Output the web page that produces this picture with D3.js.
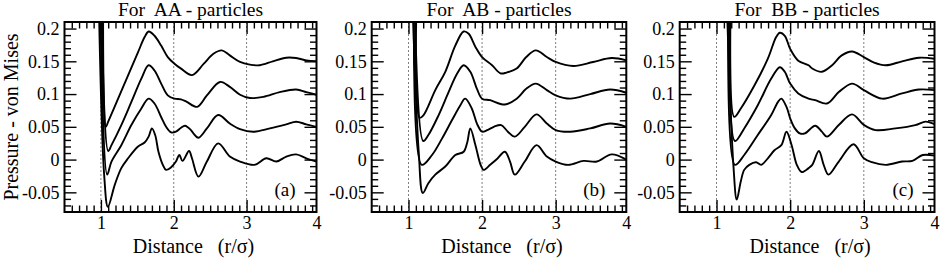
<!DOCTYPE html>
<html>
<head>
<meta charset="utf-8">
<script src="https://cdn.jsdelivr.net/npm/d3@7"></script>
<style>
  body { margin: 0; background: #fff; }
  svg { display: block; }
  text { font-family: "Liberation Serif", "Times New Roman", serif; fill: #000; }
</style>
</head>
<body>
<svg width="941" height="258"></svg>
<script>
// titels en labels
var titles = ["For  AA - particles", "For  AB - particles", "For  BB - particles"];
var tags = ["(a)", "(b)", "(c)"];
var xLabel = "Distance   (r/\u03c3)";
var yLabel = "Pressure - von Mises";
var xTicks = [1, 2, 3, 4];
var yTicks = [-0.05, 0, 0.05, 0.1, 0.15, 0.2];
var yTickLabels = ["-0.05", "0", "0.05", "0.1", "0.15", "0.2"];

// AA curves (onderste = aa0, bovenste = aa3)
var aa0 = [[0.975,0.22],[1.045,-0.024],[1.096,-0.072],[1.19,-0.0385],[1.28,-0.013],[1.373,0.002],[1.51,0.02],[1.6,0.026],[1.655,0.035],[1.70,0.0476],[1.745,0.0375],[1.79,0.012],[1.85,-0.008],[1.895,-0.0157],[1.964,-0.0117],[2.03,-0.003],[2.077,0.007],[2.12,-0.002],[2.21,0.013],[2.25,0.002],[2.34,-0.026],[2.455,-0.003],[2.61,0.0248],[2.77,0.0046],[2.91,-0.003],[3.11,-0.008],[3.27,0.002],[3.41,-0.003],[3.545,0.0046],[3.68,0.008],[3.82,0.002],[3.96,-0.003]];
var aa1 = [[0.995,0.22],[1.086,-0.023],[1.145,-0.003],[1.28,0.022],[1.418,0.0527],[1.555,0.078],[1.655,0.093],[1.736,0.0856],[1.827,0.065],[1.895,0.05],[1.964,0.0415],[2.03,0.0425],[2.1,0.0486],[2.155,0.0517],[2.236,0.045],[2.27,0.04],[2.34,0.0334],[2.455,0.0476],[2.61,0.068],[2.77,0.055],[2.91,0.0466],[3.09,0.0425],[3.32,0.0476],[3.545,0.0537],[3.68,0.0578],[3.82,0.0537],[3.96,0.050]];
var aa2 = [[1.012,0.22],[1.1,0.013],[1.145,0.022],[1.28,0.0527],[1.418,0.088],[1.555,0.1236],[1.655,0.1439],[1.736,0.136],[1.827,0.116],[1.918,0.098],[2.01,0.093],[2.1,0.092],[2.18,0.088],[2.32,0.0805],[2.455,0.098],[2.636,0.1185],[2.77,0.111],[2.91,0.099],[3.045,0.094],[3.23,0.0957],[3.455,0.103],[3.68,0.107],[3.82,0.103],[3.96,0.099]];
var aa3 = [[1.03,0.22],[1.068,0.05],[1.1,0.0578],[1.236,0.093],[1.373,0.1287],[1.51,0.164],[1.6,0.187],[1.655,0.1955],[1.736,0.189],[1.827,0.174],[1.918,0.1565],[2.01,0.1464],[2.1,0.1388],[2.25,0.129],[2.41,0.146],[2.545,0.1616],[2.66,0.1667],[2.77,0.159],[2.91,0.149],[3.045,0.145],[3.18,0.144],[3.36,0.15],[3.545,0.1555],[3.68,0.155],[3.82,0.1515],[3.96,0.15]];

// AB curves
var ab0 = [[1.06,0.22],[1.14,0.01],[1.195,-0.051],[1.27,-0.036],[1.364,-0.023],[1.5,-0.0106],[1.636,0.007],[1.75,0.012],[1.8,0.027],[1.84,0.0476],[1.91,0.022],[1.98,-0.008],[2.02,-0.0157],[2.11,-0.008],[2.195,0],[2.31,0.012],[2.38,-0.003],[2.445,-0.023],[2.58,-0.003],[2.74,0.022],[2.88,0.0046],[3.0,-0.003],[3.17,-0.008],[3.38,-0.002],[3.56,-0.003],[3.76,0.008],[3.97,0]];
var ab1 = [[1.075,0.22],[1.18,-0.008],[1.32,0.007],[1.455,0.032],[1.59,0.06],[1.705,0.083],[1.77,0.093],[1.86,0.078],[1.93,0.055],[2.0,0.0426],[2.07,0.045],[2.16,0.05],[2.26,0.0527],[2.35,0.0426],[2.445,0.035],[2.58,0.05],[2.74,0.069],[2.88,0.055],[3.0,0.045],[3.2,0.0425],[3.47,0.0476],[3.74,0.055],[3.97,0.05]];
var ab2 = [[1.09,0.22],[1.2,0.0284],[1.27,0.0375],[1.41,0.068],[1.545,0.103],[1.66,0.131],[1.75,0.1439],[1.84,0.134],[1.93,0.108],[2.0,0.093],[2.11,0.0907],[2.31,0.084],[2.47,0.093],[2.6,0.108],[2.73,0.116],[2.88,0.106],[3.0,0.098],[3.2,0.093],[3.47,0.1],[3.74,0.107],[3.97,0.102]];
var ab3 = [[1.105,0.22],[1.15,0.0638],[1.205,0.068],[1.364,0.106],[1.5,0.134],[1.636,0.174],[1.75,0.1955],[1.818,0.192],[1.91,0.172],[2.0,0.1565],[2.136,0.144],[2.25,0.1316],[2.33,0.1327],[2.47,0.139],[2.6,0.1565],[2.73,0.1667],[2.88,0.1565],[3.0,0.149],[3.24,0.1429],[3.51,0.149],[3.76,0.155],[3.97,0.1515]];

// BB curves
var bb0 = [[1.145,0.22],[1.23,-0.01],[1.275,-0.061],[1.33,-0.033],[1.376,-0.0157],[1.445,-0.008],[1.537,-0.004],[1.606,-0.008],[1.697,0.002],[1.79,0.0147],[1.88,0.022],[1.95,0.0426],[2.02,0.022],[2.09,-0.008],[2.156,-0.019],[2.25,-0.013],[2.3,-0.008],[2.39,0.013],[2.455,-0.008],[2.52,-0.023],[2.66,-0.003],[2.86,0.0233],[3.0,0.002],[3.11,-0.004],[3.3,-0.008],[3.52,-0.003],[3.66,-0.002],[3.8,0.007],[3.99,0.006]];
var bb1 = [[1.16,0.22],[1.25,-0.008],[1.376,0.007],[1.56,0.0375],[1.743,0.068],[1.835,0.088],[1.88,0.093],[1.95,0.0805],[2.0,0.063],[2.064,0.0476],[2.13,0.04],[2.2,0.04],[2.34,0.0517],[2.43,0.0426],[2.5,0.035],[2.66,0.0527],[2.84,0.069],[3.0,0.053],[3.16,0.045],[3.43,0.0476],[3.7,0.0527],[3.84,0.058],[3.99,0.054]];
var bb2 = [[1.175,0.22],[1.25,0.0284],[1.376,0.0476],[1.56,0.083],[1.743,0.1236],[1.86,0.141],[1.927,0.134],[2.0,0.116],[2.11,0.101],[2.25,0.093],[2.34,0.0907],[2.5,0.0856],[2.66,0.103],[2.84,0.116],[3.0,0.106],[3.25,0.093],[3.52,0.101],[3.75,0.107],[3.99,0.106]];
var bb3 = [[1.19,0.22],[1.24,0.0653],[1.33,0.078],[1.514,0.113],[1.697,0.154],[1.81,0.187],[1.86,0.1935],[1.927,0.189],[2.0,0.169],[2.11,0.151],[2.25,0.144],[2.3,0.139],[2.43,0.134],[2.57,0.144],[2.7,0.159],[2.84,0.165],[3.0,0.1565],[3.14,0.148],[3.3,0.144],[3.52,0.15],[3.75,0.1555],[3.99,0.154]];

var curves = [[aa0, aa1, aa2, aa3], [ab0, ab1, ab2, ab3], [bb0, bb1, bb2, bb3]];

// layout van de drie panelen
var lefts = [64.5, 371.7, 679.7];
var rights = [316.5, 626.3, 934.5];
var yTop = 22, yBottom = 212;

var svg = d3.select("svg");

var xMinor = d3.range(6, 40).filter(function(i){ return i % 10 != 0; }).map(function(i){ return i / 10; });
var yMinor = d3.range(-7, 21).filter(function(i){ return i % 5 != 0; }).map(function(i){ return i / 100; });

curves.forEach(function(set, p) {
  var x = d3.scaleLinear().domain([0.5, 3.96]).range([lefts[p], rights[p]]).clamp(true);
  var y = d3.scaleLinear().domain([-0.08, 0.21]).range([yBottom, yTop]);

  var g = svg.append("g");

  svg.append("clipPath").attr("id", "clip" + p)
    .append("rect")
    .attr("x", lefts[p]).attr("y", yTop)
    .attr("width", rights[p] - lefts[p]).attr("height", yBottom - yTop);

  // gestippelde lijnen op 1, 2, 3
  g.selectAll(".vline")
    .data([1, 2, 3])
    .enter().append("line")
    .attr("x1", function(d){ return x(d); })
    .attr("x2", function(d){ return x(d); })
    .attr("y1", yTop).attr("y2", yBottom)
    .attr("stroke", "#808080")
    .attr("stroke-width", 1)
    .attr("stroke-dasharray", "2,2");

  // ticks op alle vier de zijden
  var axes = [
    [d3.axisBottom(x), xMinor, -6.5, "translate(0," + yBottom + ")"],
    [d3.axisBottom(x), [1, 2, 3], -12, "translate(0," + yBottom + ")"],
    [d3.axisTop(x), xMinor, -6.5, "translate(0," + yTop + ")"],
    [d3.axisTop(x), [1, 2, 3], -12, "translate(0," + yTop + ")"],
    [d3.axisLeft(y), yMinor, -6.5, "translate(" + lefts[p] + ",0)"],
    [d3.axisLeft(y), yTicks, -12, "translate(" + lefts[p] + ",0)"],
    [d3.axisRight(y), yMinor, -6.5, "translate(" + rights[p] + ",0)"],
    [d3.axisRight(y), yTicks, -12, "translate(" + rights[p] + ",0)"]
  ];
  axes.forEach(function(a) {
    var ax = g.append("g").attr("transform", a[3])
      .call(a[0].tickValues(a[1]).tickSize(a[2]).tickFormat(""));
    ax.select(".domain").remove();
    ax.selectAll("line").attr("stroke", "#000").attr("stroke-width", 1.4);
  });

  // tick labels
  var xl = g.append("g").attr("transform", "translate(0," + yBottom + ")")
    .call(d3.axisBottom(x).tickValues(xTicks).tickSize(0).tickPadding(4).tickFormat(d3.format("d")));
  xl.select(".domain").remove();
  xl.selectAll("text").attr("font-size", "18px").attr("font-family", "Liberation Serif");

  var yl = g.append("g").attr("transform", "translate(" + lefts[p] + ",0)")
    .call(d3.axisLeft(y).tickValues(yTicks).tickSize(0).tickPadding(5)
      .tickFormat(function(d, i){ return yTickLabels[i]; }));
  yl.select(".domain").remove();
  yl.selectAll("text").attr("font-size", "18px").attr("font-family", "Liberation Serif");

  // curves
  var line = d3.line()
    .x(function(d){ return x(d[0]); })
    .y(function(d){ return y(d[1]); })
    .curve(d3.curveCatmullRom.alpha(0.5));

  g.append("g").attr("clip-path", "url(#clip" + p + ")")
    .selectAll("path")
    .data(set)
    .enter().append("path")
    .attr("d", line)
    .attr("fill", "none")
    .attr("stroke", "#000")
    .attr("stroke-width", 1.9)
    .attr("stroke-linejoin", "round");

  // frame
  g.append("rect")
    .attr("x", lefts[p]).attr("y", yTop)
    .attr("width", rights[p] - lefts[p]).attr("height", yBottom - yTop)
    .attr("fill", "none").attr("stroke", "#000").attr("stroke-width", 2);

  var mid = (lefts[p] + rights[p]) / 2;

  svg.append("text")
    .attr("x", mid).attr("y", 16)
    .attr("text-anchor", "middle")
    .attr("font-size", "19.5px")
    .attr("xml:space", "preserve").style("white-space", "pre")
    .text(titles[p]);

  svg.append("text")
    .attr("x", mid + 3).attr("y", 253)
    .attr("text-anchor", "middle")
    .attr("font-size", "20px")
    .attr("xml:space", "preserve").style("white-space", "pre")
    .text(xLabel);

  svg.append("text")
    .attr("x", rights[p] - 21).attr("y", 196)
    .attr("text-anchor", "end")
    .attr("font-size", "19px")
    .text(tags[p]);
});

// y-as titel
svg.append("text")
  .attr("transform", "translate(17.5," + ((yTop + yBottom) / 2) + ") rotate(-90)")
  .attr("text-anchor", "middle")
  .attr("font-size", "20px")
  .text(yLabel);
</script>
</body>
</html>
